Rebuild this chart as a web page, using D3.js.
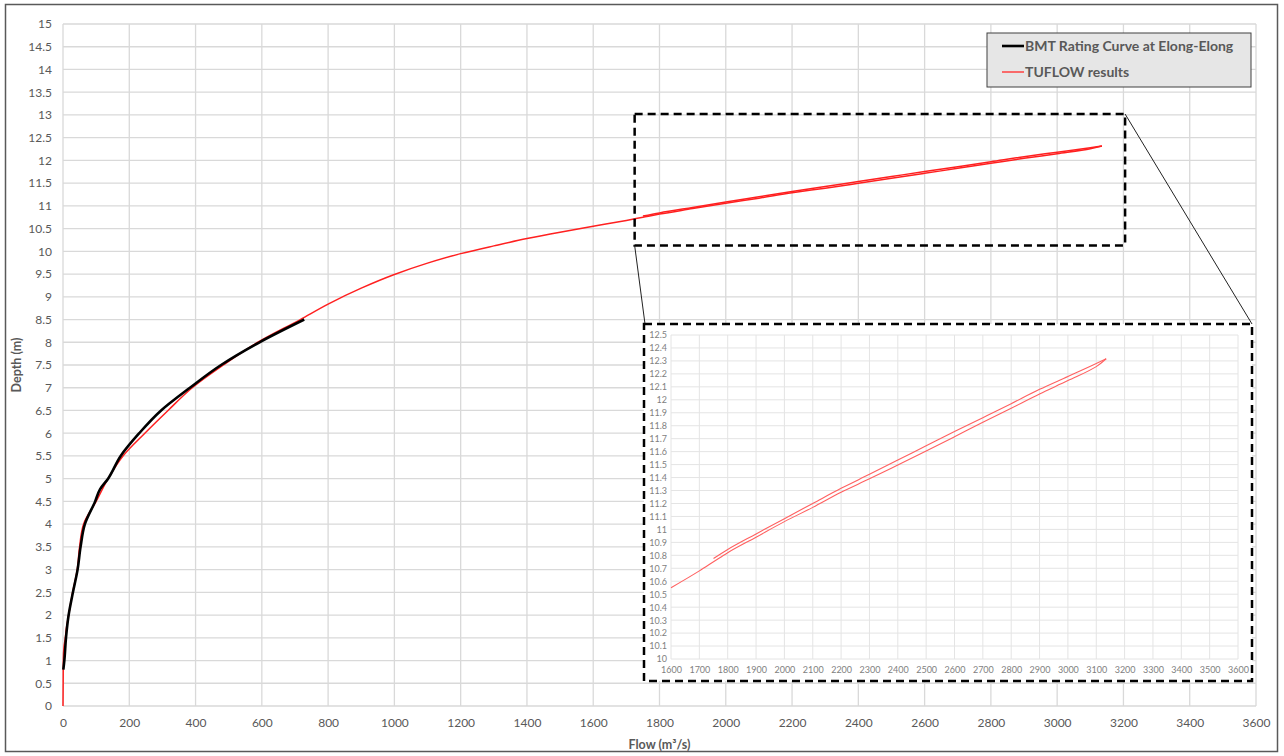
<!DOCTYPE html>
<html>
<head>
<meta charset="utf-8">
<script src="https://cdn.jsdelivr.net/npm/d3@7"></script>
<style>
  html, body { margin: 0; padding: 0; background: #fff; }
  svg { display: block; font-family: Lato, "Open Sans", sans-serif; }
</style>
</head>
<body>
<svg id="chart" width="1284" height="756"></svg>
<script>
// ---------- DATA ----------
const seriesNames = ["BMT Rating Curve at Elong-Elong", "TUFLOW results"];

// BMT rating curve (flow m3/s, depth m)
const bmtFlow  = [1, 4, 9, 17, 30, 44, 53, 66, 97, 112, 136, 174, 230, 296, 383, 477, 593, 728];
const bmtDepth = [0.8, 1.0, 1.5, 2.0, 2.5, 3.0, 3.5, 4.0, 4.5, 4.77, 5.0, 5.5, 6.0, 6.5, 7.0, 7.5, 8.0, 8.5];

// TUFLOW results: rising limb then falling limb (hysteresis loop)
const tuflowFlow  = [0, 0.5, 1, 3, 7, 10, 17, 29, 43, 50, 62, 100, 136, 181, 247, 317, 390, 484, 588, 716, 800, 900,
                     1000, 1100, 1200, 1300, 1400, 1500, 1600, 1700, 1750, 1800, 1900, 2000, 2100, 2200, 2300, 2400,
                     2500, 2600, 2700, 2800, 2900, 3000, 3100, 3135,
                     3100, 3000, 2900, 2800, 2700, 2600, 2500, 2400, 2300, 2200, 2100, 2000, 1900, 1800, 1750];
const tuflowDepth = [0, 0.5, 1.0, 1.3, 1.5, 1.7, 2.0, 2.5, 3.0, 3.5, 4.0, 4.5, 5.0, 5.5, 6.0, 6.5, 7.0, 7.5, 8.0, 8.5, 8.84, 9.19,
                     9.49, 9.74, 9.95, 10.12, 10.28, 10.42, 10.55, 10.68, 10.75, 10.82, 10.94, 11.06, 11.17, 11.287, 11.39, 11.497,
                     11.605, 11.715, 11.826, 11.935, 12.045, 12.148, 12.256, 12.317,
                     12.28, 12.18, 12.081, 11.97, 11.862, 11.755, 11.645, 11.535, 11.425, 11.317, 11.20, 11.083, 10.965, 10.845, 10.775];

// Axis ticks
const mainXTicks = d3.range(0, 3601, 200);
const mainYTicks = d3.range(0, 15.01, 0.5);
const insetXTicks = d3.range(1600, 3601, 100);
const insetYTicks = d3.range(100, 126, 1).map(v => v / 10);

// Zoomed region (data coords in main chart)
const zoomFlow  = [1725, 3205];
const zoomDepth = [10.13, 13.02];

// ---------- LAYOUT ----------
const svg = d3.select("#chart");
const W = 1284, H = 756;
const plot = { left: 63, right: 1256, top: 24, bottom: 706 };
const inset = { left: 644, right: 1252, top: 324, bottom: 681 };
const insetPlot = { left: 671, right: 1238, top: 335, bottom: 659 };

const fmt = d => String(+d.toFixed(1));
const tickColor = "#595959";

// Outer frame
svg.append("rect").attr("x", 5.5).attr("y", 4.5).attr("width", W - 12).attr("height", H - 9)
  .attr("fill", "#fff").attr("stroke", "#595959").attr("stroke-width", 1.5);

const x = d3.scaleLinear().domain([0, 3600]).range([plot.left, plot.right]);
const y = d3.scaleLinear().domain([0, 15]).range([plot.bottom, plot.top]);

// Main grid
const grid = svg.append("g");
grid.selectAll("line.v").data(mainXTicks).join("line")
  .attr("x1", d => x(d)).attr("x2", d => x(d)).attr("y1", plot.top).attr("y2", plot.bottom)
  .attr("stroke", "#d9d9d9").attr("stroke-width", 1.3);
grid.selectAll("line.h").data(mainYTicks).join("line")
  .attr("x1", plot.left).attr("x2", plot.right).attr("y1", d => y(d)).attr("y2", d => y(d))
  .attr("stroke", "#d9d9d9").attr("stroke-width", 1.3);

// Main axes (labels only)
const xAxis = d3.axisBottom(x).tickValues(mainXTicks).tickSize(0).tickPadding(12).tickFormat(fmt);
const gx = svg.append("g").attr("transform", `translate(0,${plot.bottom})`).call(xAxis);
gx.select(".domain").remove();
gx.selectAll("text").attr("fill", tickColor).style("font-size", "12px").style("font-family", "Lato, sans-serif");

const yAxis = d3.axisLeft(y).tickValues(mainYTicks).tickSize(0).tickPadding(11).tickFormat(fmt);
const gy = svg.append("g").attr("transform", `translate(${plot.left},0)`).call(yAxis);
gy.select(".domain").remove();
gy.selectAll("text").attr("fill", tickColor).style("font-size", "12px").style("font-family", "Lato, sans-serif");

// Axis titles
svg.append("text").attr("x", (plot.left + plot.right) / 2).attr("y", 749)
  .attr("text-anchor", "middle").attr("fill", tickColor).style("font-size", "12.5px").style("font-weight", "bold")
  .text("Flow (m³/s)");
svg.append("text").attr("transform", `translate(21,${(plot.top + plot.bottom) / 2}) rotate(-90)`)
  .attr("text-anchor", "middle").attr("fill", tickColor).style("font-size", "12.5px").style("font-weight", "bold")
  .text("Depth (m)");

// Series
const bmt = bmtFlow.map((f, i) => [f, bmtDepth[i]]);
const tuf = tuflowFlow.map((f, i) => [f, tuflowDepth[i]]);
const peak = d3.maxIndex(tuf, d => d[0]);
const tufRise = tuf.slice(0, peak + 1);
const tufFall = tuf.slice(peak).slice().reverse();   // sorted by depth ascending

const lineY = d3.line().x(d => x(d[0])).y(d => y(d[1])).curve(d3.curveMonotoneY);

[tufRise, tufFall].forEach(seg => {
  svg.append("path").datum(seg).attr("d", lineY).attr("fill", "none")
    .attr("stroke", "#ff2020").attr("stroke-width", 1.5).attr("stroke-linejoin", "round");
});
svg.append("path").datum(bmt).attr("d", lineY).attr("fill", "none")
  .attr("stroke", "#000").attr("stroke-width", 2.6).attr("stroke-linejoin", "round");

// Zoom box in main chart
const zb = { x0: x(zoomFlow[0]), x1: x(zoomFlow[1]), y0: y(zoomDepth[1]), y1: y(zoomDepth[0]) };
svg.append("rect").attr("x", zb.x0).attr("y", zb.y0).attr("width", zb.x1 - zb.x0).attr("height", zb.y1 - zb.y0)
  .attr("fill", "none").attr("stroke", "#000").attr("stroke-width", 2.5).attr("stroke-dasharray", "8,5");

// Connector lines
svg.append("line").attr("x1", zb.x0).attr("y1", zb.y1).attr("x2", inset.left + 1).attr("y2", inset.top)
  .attr("stroke", "#222").attr("stroke-width", 1);
svg.append("line").attr("x1", zb.x1).attr("y1", zb.y0).attr("x2", inset.right).attr("y2", inset.top)
  .attr("stroke", "#222").attr("stroke-width", 1);

// ---------- INSET ----------
const ig = svg.append("g");
ig.append("rect").attr("x", inset.left).attr("y", inset.top)
  .attr("width", inset.right - inset.left).attr("height", inset.bottom - inset.top).attr("fill", "#fff");

const xi = d3.scaleLinear().domain([1600, 3600]).range([insetPlot.left, insetPlot.right]);
const yi = d3.scaleLinear().domain([10, 12.5]).range([insetPlot.bottom, insetPlot.top]);

ig.selectAll("line.iv").data(insetXTicks).join("line")
  .attr("x1", d => xi(d)).attr("x2", d => xi(d)).attr("y1", insetPlot.top).attr("y2", insetPlot.bottom)
  .attr("stroke", "#e4e4e4").attr("stroke-width", 1);
ig.selectAll("line.ih").data(insetYTicks).join("line")
  .attr("x1", insetPlot.left).attr("x2", insetPlot.right).attr("y1", d => yi(d)).attr("y2", d => yi(d))
  .attr("stroke", "#e4e4e4").attr("stroke-width", 1);

const xiAxis = d3.axisBottom(xi).tickValues(insetXTicks).tickSize(0).tickPadding(8).tickFormat(fmt);
const gxi = ig.append("g").attr("transform", `translate(0,${insetPlot.bottom})`).call(xiAxis);
gxi.select(".domain").remove();
gxi.selectAll("text").attr("fill", "#7f7f7f").style("font-size", "9px").style("font-family", "Lato, sans-serif");

const yiAxis = d3.axisLeft(yi).tickValues(insetYTicks).tickSize(0).tickPadding(4).tickFormat(fmt);
const gyi = ig.append("g").attr("transform", `translate(${insetPlot.left},0)`).call(yiAxis);
gyi.select(".domain").remove();
gyi.selectAll("text").attr("fill", "#7f7f7f").style("font-size", "9px").style("font-family", "Lato, sans-serif");

const lineI = d3.line().x(d => xi(d[0])).y(d => yi(d[1])).curve(d3.curveMonotoneY);
[tufRise, tufFall].forEach(seg => {
  const s = seg.filter(d => d[0] >= 1600 && d[1] >= 10);
  ig.append("path").datum(s).attr("d", lineI).attr("fill", "none")
    .attr("stroke", "#ff6060").attr("stroke-width", 1.1).attr("stroke-linejoin", "round");
});

ig.append("rect").attr("x", inset.left).attr("y", inset.top)
  .attr("width", inset.right - inset.left).attr("height", inset.bottom - inset.top)
  .attr("fill", "none").attr("stroke", "#000").attr("stroke-width", 2.5).attr("stroke-dasharray", "8,5");

// ---------- LEGEND ----------
const lg = svg.append("g").attr("transform", "translate(987,33)");
lg.append("rect").attr("width", 264).attr("height", 54).attr("fill", "#e6e6e6")
  .attr("stroke", "#404040").attr("stroke-width", 1);
const legendItems = [
  { name: seriesNames[0], color: "#000", width: 2.6 },
  { name: seriesNames[1], color: "#ff4040", width: 1.5 }
];
legendItems.forEach((it, i) => {
  const yy = 13 + i * 26;
  lg.append("line").attr("x1", 15).attr("x2", 37).attr("y1", yy).attr("y2", yy)
    .attr("stroke", it.color).attr("stroke-width", it.width);
  lg.append("text").attr("x", 38).attr("y", yy).attr("dy", "0.35em")
    .attr("fill", "#595959").style("font-size", "14px").style("font-weight", "bold").text(it.name);
});
</script>
</body>
</html>
